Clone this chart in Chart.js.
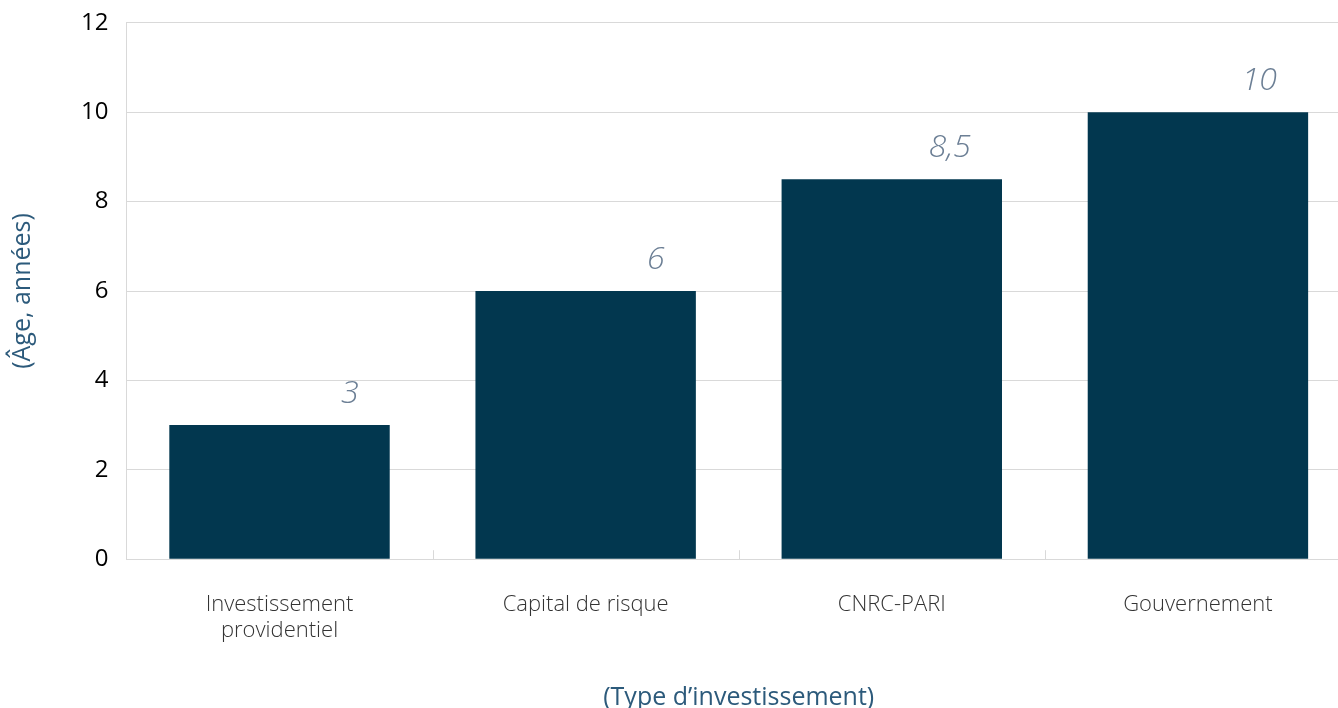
<!DOCTYPE html>
<html>
<head>
<meta charset="utf-8">
<script src="https://cdn.jsdelivr.net/npm/chart.js@4/dist/chart.umd.min.js"></script>
<style>
  html, body { margin: 0; padding: 0; background: #fff; overflow: hidden; }
  #wrap { width: 1351px; height: 713px; }
</style>
</head>
<body>
<div id="wrap"><canvas id="chart"></canvas></div>
<script>
// Données
const categories = [['Investissement', 'providentiel'], 'Capital de risque', 'CNRC-PARI', 'Gouvernement'];
const ages = [3, 6, 8.5, 10];
const yTicks = [0, 2, 4, 6, 8, 10, 12];

const barColor = '#02374f';
const labelColor = '#6c7f95';

// étiquettes de valeur en italique, décalées à droite du centre de la barre
const valueLabels = {
  id: 'valueLabels',
  afterDatasetsDraw(chart) {
    const ctx = chart.ctx;
    const meta = chart.getDatasetMeta(0);
    ctx.save();
    ctx.font = 'italic 300 32px "Open Sans"';
    ctx.fillStyle = labelColor;
    ctx.textAlign = 'right';
    ctx.textBaseline = 'alphabetic';
    meta.data.forEach((bar, i) => {
      const txt = String(ages[i]).replace('.', ',');
      ctx.fillText(txt, bar.x + 79, bar.y - 22);
    });
    ctx.restore();
  }
};

// petits traits entre les catégories, vers le haut
const catTicks = {
  id: 'catTicks',
  afterDraw(chart) {
    const x = chart.scales.x;
    const ctx = chart.ctx;
    const bottom = chart.chartArea.bottom;
    ctx.save();
    ctx.strokeStyle = '#d9d9d9';
    ctx.lineWidth = 1;
    for (let i = 1; i < categories.length; i++) {
      const px = Math.round((x.getPixelForValue(i - 1) + x.getPixelForValue(i)) / 2) + 0.5;
      ctx.beginPath();
      ctx.moveTo(px, bottom - 9);
      ctx.lineTo(px, bottom);
      ctx.stroke();
    }
    ctx.restore();
  }
};

const ctx = document.getElementById('chart').getContext('2d');

new Chart(ctx, {
  type: 'bar',
  data: {
    labels: categories,
    datasets: [{
      data: ages,
      backgroundColor: barColor,
      barPercentage: 0.72,
      categoryPercentage: 1.0,
    }]
  },
  options: {
    responsive: true,
    maintainAspectRatio: false,
    animation: false,
    layout: {
      padding: { top: 5, left: 8, right: 0, bottom: 0 }
    },
    plugins: {
      legend: { display: false },
      tooltip: { enabled: false }
    },
    scales: {
      x: {
        grid: { display: false },
        border: { color: '#d9d9d9' },
        ticks: {
          color: '#333333',
          font: { family: 'Open Sans', size: 22, weight: 300, lineHeight: 1.2 },
          padding: 24,
          maxRotation: 0,
        },
        title: {
          display: true,
          text: '(Type d\u2019investissement)',
          color: '#2c5a7b',
          font: { family: 'Open Sans', size: 25 },
          padding: { top: 15, bottom: 0 }
        }
      },
      y: {
        min: 0,
        max: 12,
        afterBuildTicks(scale) {
          scale.ticks = yTicks.map(v => ({ value: v }));
        },
        grid: { color: '#d9d9d9', drawTicks: false },
        border: { color: '#d9d9d9' },
        ticks: {
          color: '#000000',
          // lineHeight réduit : évite la marge haute ajoutée par Chart.js
          font: { family: 'Open Sans', size: 24, lineHeight: 0.4 },
          padding: 18,
        },
        title: {
          display: true,
          text: '(\u00c2ge, ann\u00e9es)',
          color: '#2c5a7b',
          font: { family: 'Open Sans', size: 25 },
          padding: { top: 0, bottom: 25 }
        }
      }
    }
  },
  plugins: [valueLabels, catTicks]
});
</script>
</body>
</html>
